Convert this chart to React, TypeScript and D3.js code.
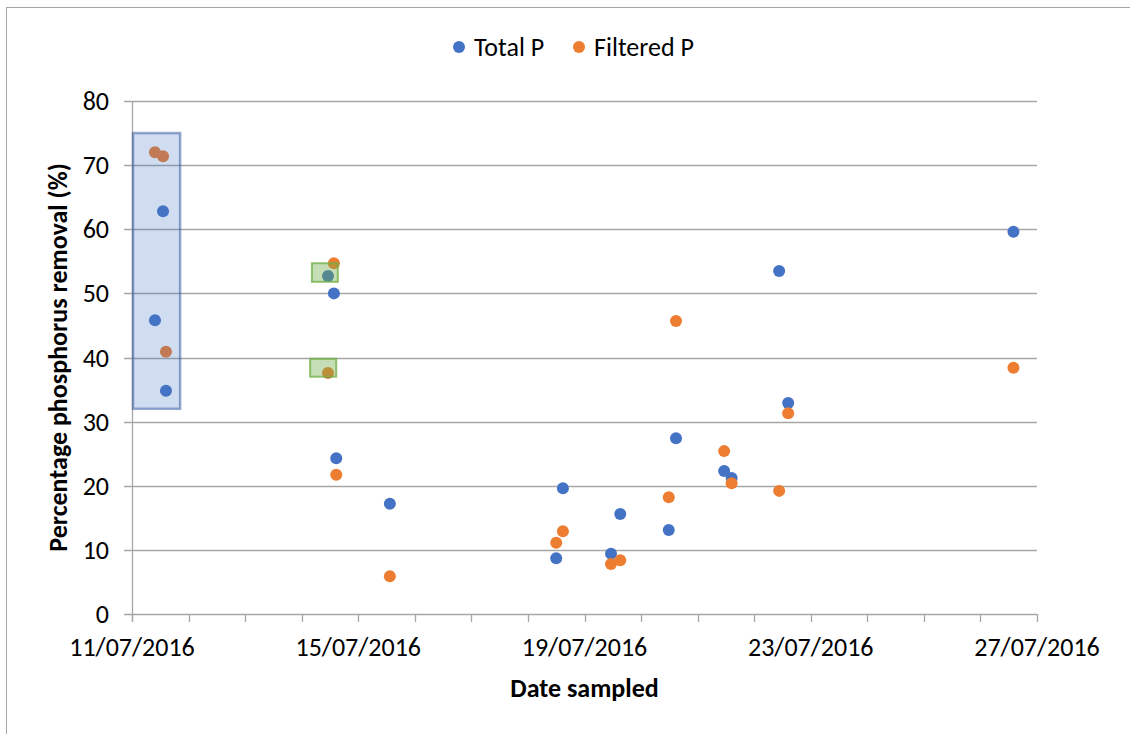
import { useEffect, useRef } from 'react';
import * as d3 from 'd3';

// sample times (to the nearest ~10 min)
const sampleTimes = [
  '2016-07-11T09:45', '2016-07-11T13:10', '2016-07-11T14:25',
  '2016-07-14T11:10', '2016-07-14T13:40', '2016-07-14T14:40',
  '2016-07-15T13:25',
  '2016-07-18T12:00', '2016-07-18T14:50',
  '2016-07-19T11:15', '2016-07-19T15:10',
  '2016-07-20T11:45', '2016-07-20T14:50',
  '2016-07-21T11:15', '2016-07-21T14:25',
  '2016-07-22T10:35', '2016-07-22T14:25',
  '2016-07-26T14:00',
];

const totalP = [45.8, 62.8, 34.8, 52.7, 50.0, 24.3, 17.2, 8.7, 19.6, 9.4, 15.6, 13.1, 27.4, 22.3, 21.2, 53.5, 32.9, 59.6];
const filteredP = [72.0, 71.4, 40.9, 37.6, 54.7, 21.7, 5.9, 11.1, 12.9, 7.8, 8.4, 18.2, 45.7, 25.4, 20.4, 19.2, 31.3, 38.4];

const seriesNames = ['Total P', 'Filtered P'];
const seriesColors = ['#4472C4', '#ED7D31'];

const yTicks = [0, 10, 20, 30, 40, 50, 60, 70, 80];
const xTickLabels = ['11/07/2016', '15/07/2016', '19/07/2016', '23/07/2016', '27/07/2016'];

// highlight boxes: [start time, end time, low %, high %]
const blueBox = ['2016-07-11T00:25', '2016-07-11T20:25', 32.0, 75.0];
const greenBoxes = [
  ['2016-07-14T04:20', '2016-07-14T15:20', 51.8, 54.7],
  ['2016-07-14T03:35', '2016-07-14T14:40', 37.0, 39.8],
];

const App = () => {
  const ref = useRef(null);

  useEffect(() => {
    const width = 1130;
    const height = 734;
    const left = 132;
    const right = 1037;
    const top = 101;
    const bottom = 614;
    const font = 'Calibri, Carlito, "Open Sans", sans-serif';
    const fs = 26;
    const grid = '#a6a6a6';

    const svg = d3.select(ref.current);
    svg.selectAll('*').remove();
    svg.attr('width', width).attr('height', height);

    const parse = d3.timeParse('%Y-%m-%dT%H:%M');
    const start = parse('2016-07-11T00:00');
    const end = parse('2016-07-27T00:00');
    const x = d3.scaleTime().domain([start, end]).range([left, right]);
    const y = d3.scaleLinear().domain([0, 80]).range([bottom, top]);

    svg.append('rect')
      .attr('x', 6.5).attr('y', 7.5)
      .attr('width', width + 20).attr('height', height + 20)
      .attr('fill', '#fff').attr('stroke', grid);

    // gridlines + y ticks
    svg.append('g').selectAll('line')
      .data(yTicks.filter((d) => d > 0))
      .enter().append('line')
      .attr('x1', left - 8).attr('x2', right)
      .attr('y1', (d) => Math.round(y(d)) + 0.5)
      .attr('y2', (d) => Math.round(y(d)) + 0.5)
      .attr('stroke', grid).attr('stroke-width', 1.3);

    svg.append('g').selectAll('text')
      .data(yTicks)
      .enter().append('text')
      .attr('x', 109)
      .attr('y', (d) => y(d))
      .attr('dy', '0.35em')
      .attr('text-anchor', 'end')
      .attr('font-family', font)
      .attr('font-size', fs)
      .attr('fill', '#000')
      .text((d) => d);

    // axes
    svg.append('line')
      .attr('x1', left + 0.5).attr('x2', left + 0.5)
      .attr('y1', top).attr('y2', bottom + 8)
      .attr('stroke', grid).attr('stroke-width', 1.3);
    svg.append('line')
      .attr('x1', left - 8).attr('x2', right)
      .attr('y1', bottom + 0.5).attr('y2', bottom + 0.5)
      .attr('stroke', grid).attr('stroke-width', 1.3);

    const days = d3.timeDay.range(start, d3.timeDay.offset(end, 1));
    svg.append('g').selectAll('line')
      .data(days)
      .enter().append('line')
      .attr('x1', (d) => Math.round(x(d)) + 0.5)
      .attr('x2', (d) => Math.round(x(d)) + 0.5)
      .attr('y1', bottom).attr('y2', bottom + 8)
      .attr('stroke', grid).attr('stroke-width', 1.3);

    svg.append('g').selectAll('text')
      .data(xTickLabels)
      .enter().append('text')
      .attr('x', (d, i) => x(d3.timeDay.offset(start, i * 4)))
      .attr('y', 656)
      .attr('text-anchor', 'middle')
      .attr('font-family', font)
      .attr('font-size', fs)
      .attr('fill', '#000')
      .text((d) => d);

    // points
    const dates = sampleTimes.map(parse);
    [totalP, filteredP].forEach((vals, s) => {
      svg.append('g').selectAll('circle')
        .data(vals)
        .enter().append('circle')
        .attr('cx', (d, i) => x(dates[i]))
        .attr('cy', (d) => y(d))
        .attr('r', 6)
        .attr('fill', seriesColors[s]);
    });

    // highlight boxes on top
    const [b0, b1, bLo, bHi] = blueBox;
    svg.append('rect')
      .attr('x', x(parse(b0))).attr('y', y(bHi))
      .attr('width', x(parse(b1)) - x(parse(b0)))
      .attr('height', y(bLo) - y(bHi))
      .attr('fill', 'rgba(68,114,196,0.25)')
      .attr('stroke', 'rgba(47,85,151,0.5)')
      .attr('stroke-width', 2.5);

    svg.append('g').selectAll('rect')
      .data(greenBoxes)
      .enter().append('rect')
      .attr('x', (d) => x(parse(d[0]))).attr('y', (d) => y(d[3]))
      .attr('width', (d) => x(parse(d[1])) - x(parse(d[0])))
      .attr('height', (d) => y(d[2]) - y(d[3]))
      .attr('fill', 'rgba(112,173,71,0.4)')
      .attr('stroke', 'rgba(112,173,71,0.75)')
      .attr('stroke-width', 2);

    // axis titles
    svg.append('text')
      .attr('transform', `translate(67, ${(top + bottom) / 2}) rotate(-90)`)
      .attr('text-anchor', 'middle')
      .attr('font-family', font)
      .attr('font-size', fs)
      .attr('font-weight', 'bold')
      .text('Percentage phosphorus removal (%)');

    svg.append('text')
      .attr('x', (left + right) / 2)
      .attr('y', 697)
      .attr('text-anchor', 'middle')
      .attr('font-family', font)
      .attr('font-size', fs)
      .attr('font-weight', 'bold')
      .text('Date sampled');

    // legend
    const legendX = [459, 579];
    seriesNames.forEach((name, i) => {
      svg.append('circle')
        .attr('cx', legendX[i]).attr('cy', 47).attr('r', 6)
        .attr('fill', seriesColors[i]);
      svg.append('text')
        .attr('x', legendX[i] + 15).attr('y', 47)
        .attr('dy', '0.35em')
        .attr('font-family', font)
        .attr('font-size', fs)
        .text(name);
    });
  }, []);

  return <svg ref={ref} style={{ position: 'absolute', left: 0, top: 0 }}></svg>;
};

export default App;
